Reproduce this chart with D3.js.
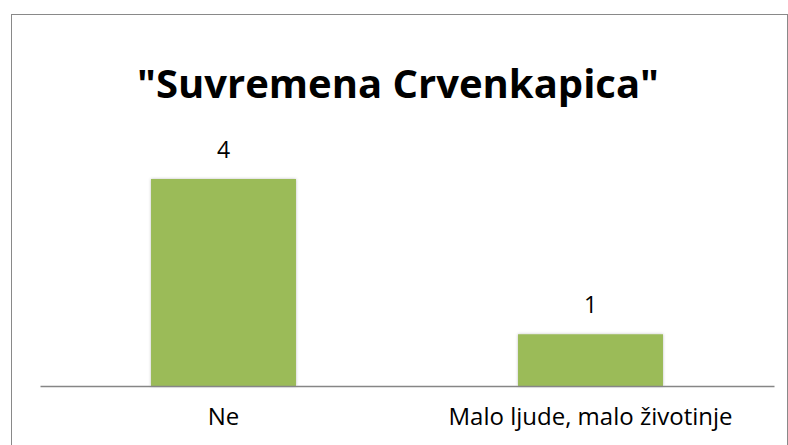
<!DOCTYPE html>
<html>
<head>
<meta charset="utf-8">
<script src="https://cdn.jsdelivr.net/npm/d3@7"></script>
<style>
  body { margin: 0; background: #fff; }
  text { font-family: "Open Sans", sans-serif; fill: #000; }
</style>
</head>
<body>
<div id="wrapper"></div>
<script>
// Data
const categories = ['Ne', 'Malo ljude, malo životinje']
const values = [4, 1]
const chartTitle = '"Suvremena Crvenkapica"'

function drawChart() {
  const dimensions = {
    width: 788,
    height: 445,
    margin: { top: 0, right: 14, bottom: 59, left: 40 },
  }
  dimensions.boundedWidth = dimensions.width - dimensions.margin.left - dimensions.margin.right
  dimensions.boundedHeight = dimensions.height - dimensions.margin.top - dimensions.margin.bottom

  const svg = d3.select('#wrapper')
    .append('svg')
    .attr('width', dimensions.width)
    .attr('height', dimensions.height)

  // soft glow around the bars
  const defs = svg.append('defs')
  const shadow = defs.append('filter')
    .attr('id', 'bar-shadow')
    .attr('x', '-10%').attr('y', '-10%')
    .attr('width', '120%').attr('height', '120%')
  shadow.append('feDropShadow')
    .attr('dx', 0).attr('dy', 0)
    .attr('stdDeviation', 1.6)
    .attr('flood-color', '#000')
    .attr('flood-opacity', 0.25)

  // outer frame
  svg.append('rect')
    .attr('x', 11.5).attr('y', 14.5)
    .attr('width', 776).attr('height', 440)
    .attr('fill', 'none')
    .attr('stroke', '#898989')
    .attr('stroke-width', 1)

  const bounds = svg.append('g')
    .attr('transform', `translate(${dimensions.margin.left},${dimensions.margin.top})`)

  // Scales
  const xScale = d3.scaleBand()
    .domain(categories)
    .range([0, dimensions.boundedWidth])
    .paddingInner(0.605)
    .paddingOuter(0.3025)

  const yScale = d3.scaleLinear()
    .domain([0, 4])
    .range([dimensions.boundedHeight, 179])

  // Bars
  bounds.selectAll('.bar')
    .data(values)
    .enter()
    .append('rect')
    .attr('class', 'bar')
    .attr('x', (d, i) => xScale(categories[i]))
    .attr('y', d => yScale(d))
    .attr('width', xScale.bandwidth())
    .attr('height', d => dimensions.boundedHeight - yScale(d))
    .attr('fill', '#9bbb59')
    .attr('filter', 'url(#bar-shadow)')

  // Value labels
  bounds.selectAll('.value')
    .data(values)
    .enter()
    .append('text')
    .attr('class', 'value')
    .attr('x', (d, i) => xScale(categories[i]) + xScale.bandwidth() / 2)
    .attr('y', d => yScale(d) - 21)
    .attr('text-anchor', 'middle')
    .style('font-size', '23px')
    .text(d => d)

  // x axis
  const xAxis = d3.axisBottom(xScale).tickSize(0).tickPadding(22)
  const xAxisGroup = bounds.append('g')
    .attr('transform', `translate(0,${dimensions.boundedHeight})`)
    .call(xAxis)
  xAxisGroup.select('.domain').attr('stroke', '#868686').attr('stroke-width', 1.3)
  xAxisGroup.selectAll('text')
    .style('font-size', '24px')
    .style('font-family', '"Open Sans", sans-serif')
    .attr('fill', '#000')

  // Title
  svg.append('text')
    .attr('x', 398)
    .attr('y', 98)
    .attr('text-anchor', 'middle')
    .style('font-size', '40px')
    .style('font-weight', 'bold')
    .text(chartTitle)
}
drawChart()
</script>
</body>
</html>
